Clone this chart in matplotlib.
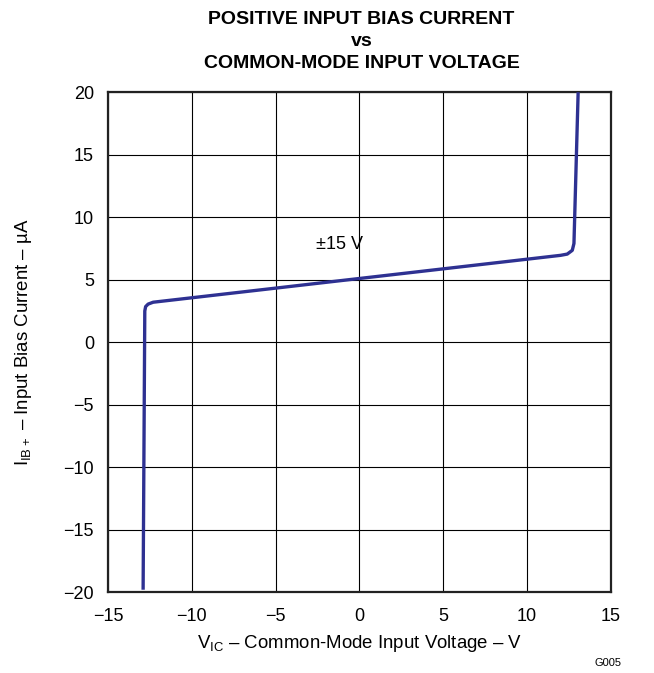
import matplotlib
matplotlib.use('Agg')
from matplotlib import pyplot as plt

plt.rcParams['font.family'] = ['Liberation Sans', 'DejaVu Sans']
plt.rcParams['mathtext.fontset'] = 'custom'
plt.rcParams['mathtext.rm'] = 'Liberation Sans'

# curve (V, uA)
vic = [-12.9, -12.8, -12.75, -12.6, -12.3, 12.0, 12.4, 12.7, 12.8, 13.05]
iib = [-19.8, 2.5, 2.85, 3.05, 3.2, 6.95, 7.05, 7.35, 7.9, 20.0]

xticks = [-15, -10, -5, 0, 5, 10, 15]
yticks = [-20, -15, -10, -5, 0, 5, 10, 15, 20]

title_lines = ['POSITIVE INPUT BIAS CURRENT', 'vs', 'COMMON-MODE INPUT VOLTAGE']

fig = plt.figure(figsize=(6.54, 6.73), dpi=100)
ax = fig.add_axes([0.165, 0.120, 0.769, 0.743])

ax.plot(vic, iib, color='#2e3192', lw=2.4, solid_joinstyle='round', solid_capstyle='butt', zorder=3)

ax.set_xlim(-15, 15)
ax.set_ylim(-20, 20)
ax.set_xticks(xticks)
ax.set_yticks(yticks)
ax.set_xticklabels([str(t).replace('-', '\u2212') for t in xticks])
ax.set_yticklabels([str(t).replace('-', '\u2212') for t in yticks])
ax.tick_params(axis='x', length=0, labelsize=13, pad=11)
ax.tick_params(axis='y', length=0, labelsize=13, pad=10)
ax.grid(True, color='black', lw=0.8)
for s in ax.spines.values():
    s.set_linewidth(1.6)
    s.set_color('#222222')

ax.text(-1.2, 7.8, '\u00b115 V', fontsize=13, ha='center', va='center')

ax.set_xlabel('V$_{\\mathregular{IC}}$ \u2013 Common-Mode Input Voltage \u2013 V',
              fontsize=13.4, labelpad=6)
ax.set_ylabel('I$_{\\mathregular{IB+}}$ \u2013 Input Bias Current \u2013 \u00b5A',
              fontsize=13.4, labelpad=21)

for line, yb in zip(title_lines, [0.9643, 0.9316, 0.899]):
    fig.text(0.553, yb, line, ha='center', va='baseline', fontsize=14, fontweight='bold')
fig.text(0.95, 0.008, 'G005', ha='right', va='bottom', fontsize=8)

plt.savefig('out.png', dpi=100)
